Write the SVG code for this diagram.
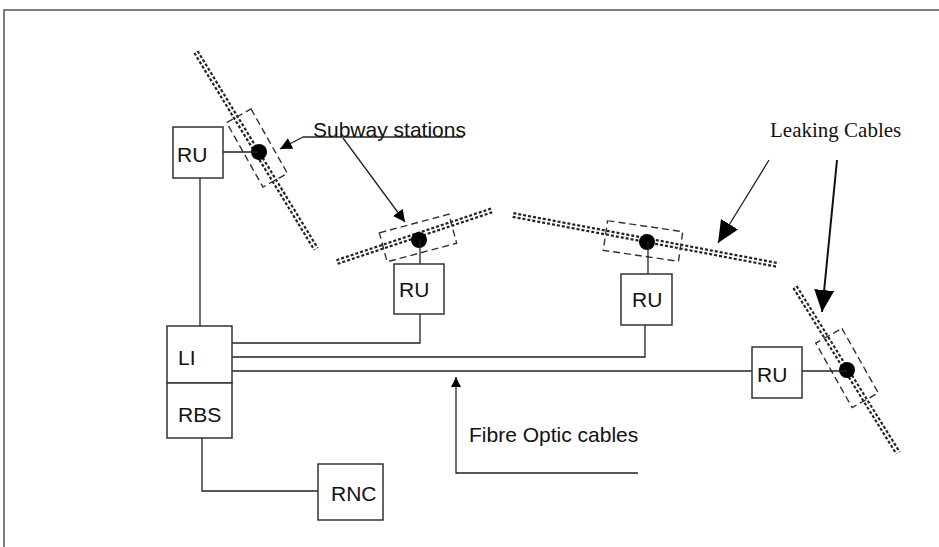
<svg xmlns="http://www.w3.org/2000/svg" width="939" height="547" viewBox="0 0 939 547">
<style>
.box{fill:#fff;stroke:#333;stroke-width:1.5}
.ln{fill:none;stroke:#222;stroke-width:1.3}
.lbl{font-family:"Liberation Sans",Arial,sans-serif;font-size:21px;fill:#111}
.ser{font-family:"Liberation Serif","Times New Roman",serif;font-size:21px;fill:#111}
.cab1{stroke:#222;stroke-width:6;stroke-dasharray:3 2}
.cab2{stroke:#fff;stroke-width:1.6}
.dr{fill:none;stroke:#333;stroke-width:1.4;stroke-dasharray:7 4}
.dot{fill:#000}
</style>
<defs>
<marker id="ah" markerUnits="userSpaceOnUse" markerWidth="14" markerHeight="12" refX="12" refY="6" orient="auto"><path d="M0,0 L12,6 L0,12 z" fill="#000"/></marker>
<marker id="ahb" markerUnits="userSpaceOnUse" markerWidth="24" markerHeight="20" refX="22" refY="10" orient="auto"><path d="M0,0 L22,10 L0,20 z" fill="#000"/></marker>
<marker id="ahs" markerUnits="userSpaceOnUse" markerWidth="12" markerHeight="10" refX="10" refY="5" orient="auto"><path d="M0,0 L10,5 L0,10 z" fill="#000"/></marker>
</defs>
<g id="frame"><path d="M4,547 L4,10 L939,10" fill="none" stroke="#555" stroke-width="1.5"/></g>

<g id="cables">
<g id="cable1"><line class="cab1" x1="196" y1="52" x2="316" y2="249"/><line class="cab2" x1="196" y1="52" x2="316" y2="249"/><rect class="dr" x="-37" y="-14" width="74" height="28" transform="translate(257,148) rotate(60.6)"/><circle class="dot" cx="259" cy="152" r="8"/></g>
<g id="cable2"><line class="cab1" x1="337" y1="262" x2="493" y2="210"/><line class="cab2" x1="337" y1="262" x2="493" y2="210"/><rect class="dr" x="-36" y="-15" width="72" height="30" transform="translate(418,238) rotate(-15)"/><circle class="dot" cx="419" cy="240" r="8"/></g>
<g id="cable3"><line class="cab1" x1="513" y1="215" x2="778" y2="265"/><line class="cab2" x1="513" y1="215" x2="778" y2="265"/><rect class="dr" x="-38" y="-15" width="76" height="30" transform="translate(643,241) rotate(8.3)"/><circle class="dot" cx="647" cy="242" r="8"/></g>
<g id="cable4"><line class="cab1" x1="795" y1="287" x2="898" y2="453"/><line class="cab2" x1="795" y1="287" x2="898" y2="453"/><rect class="dr" x="-37" y="-15" width="74" height="30" transform="translate(847,368) rotate(60.6)"/><circle class="dot" cx="847" cy="370" r="8"/></g>
</g>

<g id="connectors">
<line class="ln" x1="223" y1="152" x2="258" y2="152"/>
<line class="ln" x1="200" y1="178" x2="200" y2="326"/>
<line class="ln" x1="420" y1="240" x2="420" y2="264"/>
<line class="ln" x1="648" y1="242" x2="648" y2="274"/>
<line class="ln" x1="802" y1="371" x2="847" y2="371"/>
<path class="ln" d="M232,343 H420 V314"/>
<path class="ln" d="M232,357 H645 V325"/>
<path class="ln" d="M232,371 H752"/>
<path class="ln" d="M202,438 V491 H318"/>
<path class="ln" d="M303,137 H463"/>
<line class="ln" x1="303" y1="137" x2="280" y2="149" marker-end="url(#ah)"/>
<line class="ln" x1="343" y1="138" x2="405" y2="222" marker-end="url(#ah)"/>
<line class="ln" x1="769" y1="160" x2="718" y2="243" marker-end="url(#ahb)"/>
<line x1="837" y1="160" x2="822" y2="312" stroke="#111" stroke-width="2" marker-end="url(#ahb)"/>
<path class="ln" d="M638,473 H456 V377" marker-end="url(#ahs)"/>
</g>

<g id="ru1"><rect class="box" x="173" y="127" width="50" height="51"/><text class="lbl" x="177" y="162">RU</text></g>
<g id="ru2"><rect class="box" x="394" y="264" width="50" height="50"/><text class="lbl" x="399" y="297">RU</text></g>
<g id="ru3"><rect class="box" x="621" y="274" width="51" height="51"/><text class="lbl" x="632" y="307">RU</text></g>
<g id="ru4"><rect class="box" x="752" y="347" width="50" height="51"/><text class="lbl" x="757" y="382">RU</text></g>
<g id="li"><rect class="box" x="167" y="326" width="65" height="57"/><text class="lbl" x="178" y="365">LI</text></g>
<g id="rbs"><rect class="box" x="167" y="383" width="65" height="55"/><text class="lbl" x="178" y="422">RBS</text></g>
<g id="rnc"><rect class="box" x="318" y="464" width="65" height="56"/><text class="lbl" x="331" y="501">RNC</text></g>

<g id="labels">
<text class="lbl" x="313" y="137">Subway stations</text>
<text class="ser" x="770" y="137">Leaking Cables</text>
<text class="lbl" x="469" y="442">Fibre Optic cables</text>
</g>
</svg>
